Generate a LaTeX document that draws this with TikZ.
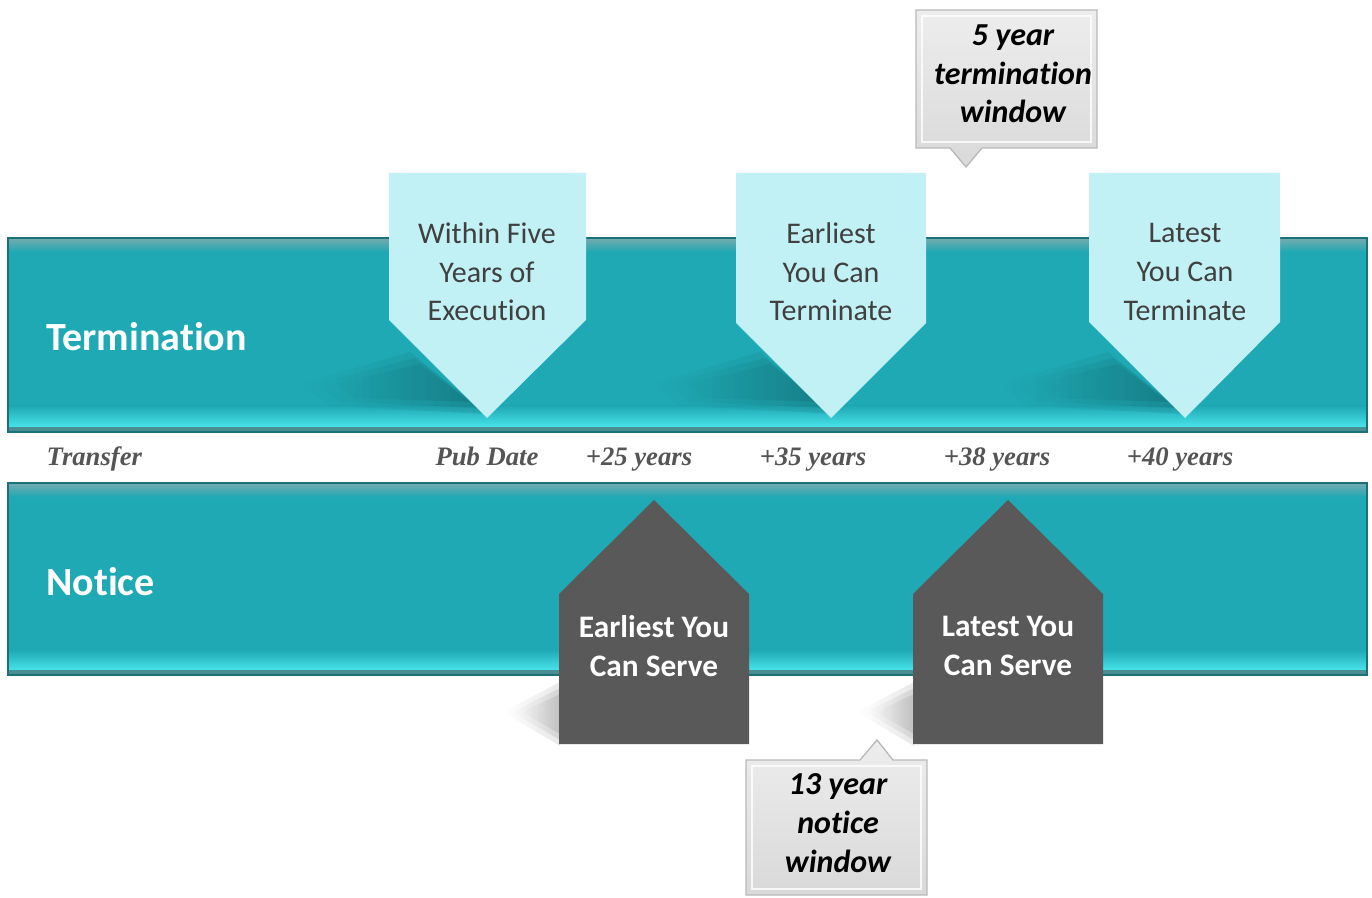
\documentclass[tikz,border=0pt]{standalone}
\usepackage{fontspec}
\setmainfont{Carlito}[Ligatures=NoCommon]
\newfontfamily\timesbi{Liberation Serif}
\usepackage{xcolor}
\usetikzlibrary{positioning, calc, fadings}

\definecolor{band}{HTML}{1FA9B4}
\definecolor{bandhi}{HTML}{48E3EA}
\definecolor{bandedge}{HTML}{1A7178}
\definecolor{tagfill}{HTML}{C2F1F5}
\definecolor{tagink}{HTML}{404040}
\definecolor{servefill}{HTML}{595959}
\definecolor{yearink}{HTML}{555555}
\tikzfading[name=fade in left, left color=transparent!100, right color=transparent!0]

\begin{document}
\begin{tikzpicture}[x=0.75pt, y=-0.75pt,
    bandtext/.style={text=white, anchor=west, inner sep=0pt, font=\fontsize{30}{36}\selectfont\bfseries},
    tagtext/.style={text=tagink, align=center, font=\fontsize{22.5}{29}\selectfont},
    servetext/.style={text=white, align=center, font=\fontsize{23.5}{29}\selectfont\bfseries},
    calltext/.style={align=center, font=\fontsize{24}{29}\selectfont\bfseries\itshape},
    yeartext/.style={text=yearink, anchor=base, font=\timesbi\fontsize{20}{24}\selectfont\bfseries\itshape},
    shadowfill/.style={fill=black, fill opacity=0.09, path fading=fade in left},
    callout/.style={top color=gray!14, bottom color=gray!30, draw=gray!55, line width=1}]
  \useasboundingbox (0,0) rectangle (1372,898);

  % the two bands
  \fill[band] (8,238) rectangle (1367,432);
  \shade[top color=bandedge!60, bottom color=band] (8,238) rectangle (1367,252);
  \shade[top color=band, bottom color=bandhi] (8,406) rectangle (1367,427);
  \fill[bandedge!80] (8,427) rectangle (1367,432);
  \draw[bandedge, line width=1.5] (8,238) rectangle (1367,432);
  \fill[band] (8,483) rectangle (1367,675);
  \shade[top color=bandedge!60, bottom color=band] (8,483) rectangle (1367,497);
  \shade[top color=band, bottom color=bandhi] (8,650) rectangle (1367,670);
  \fill[bandedge!80] (8,670) rectangle (1367,675);
  \draw[bandedge, line width=1.5] (8,483) rectangle (1367,675);
  \node[bandtext] (termination) at (46,337) {Termination};
  \node[bandtext] (notice) at (46,582) {Notice};

  % shadows, stacked for a soft edge
  \foreach \sx in {0,350,698}{
    \fill[shadowfill] (300+\sx,384) -- (410+\sx,352) -- (487+\sx,414) -- (330+\sx,406) -- cycle;
    \fill[shadowfill] (315+\sx,384) -- (415+\sx,358) -- (480+\sx,408) -- (340+\sx,402) -- cycle;
    \fill[shadowfill] (335+\sx,384) -- (420+\sx,364) -- (470+\sx,402) -- (355+\sx,398) -- cycle;
  }
  \foreach \sx in {0,354}{
    \fill[shadowfill] (503+\sx,712) -- (560+\sx,682) -- (560+\sx,746) -- cycle;
    \fill[shadowfill] (512+\sx,712) -- (560+\sx,688) -- (560+\sx,740) -- cycle;
    \fill[shadowfill] (522+\sx,712) -- (560+\sx,694) -- (560+\sx,734) -- cycle;
  }

  % termination tags
  \fill[tagfill] (389,173) -- (586,173) -- (586,320) -- (487,418) -- (389,320) -- cycle;
  \fill[tagfill] (736,173) -- (926,173) -- (926,323) -- (831,418) -- (736,323) -- cycle;
  \fill[tagfill] (1089,173) -- (1280,173) -- (1280,322) -- (1185,418) -- (1089,322) -- cycle;
  \node[tagtext] (within) at (487,272) {Within Five\\Years of\\Execution};
  \node[tagtext] (earliest) at (831,272) {Earliest\\You Can\\Terminate};
  \node[tagtext] (latest) at (1185,272) {Latest\\You Can\\Terminate};

  % notice tags
  \fill[servefill] (654,500) -- (749,594) -- (749,744) -- (559,744) -- (559,594) -- cycle;
  \fill[servefill] (1008,500) -- (1103,594) -- (1103,744) -- (913,744) -- (913,594) -- cycle;
  \node[servetext] (earlyserve) at (654,646) {Earliest You\\Can Serve};
  \node[servetext] (lateserve) at (1008,646) {Latest You\\Can Serve};

  % timeline
  \node[yeartext, anchor=base west] (transfer) at (42,466) {Transfer};
  \node[yeartext] (pubdate) at (487,466) {Pub Date};
  \node[yeartext] (plus25) at (639,466) {+25 years};
  \node[yeartext] (plus35) at (813,466) {+35 years};
  \node[yeartext] (plus38) at (997,466) {+38 years};
  \node[yeartext] (plus40) at (1180,466) {+40 years};

  % callouts
  \shadedraw[callout] (916,10) -- (1097,10) -- (1097,148) -- (982,148) -- (966,167)
    -- (950,148) -- (916,148) -- cycle;
  \draw[white, line width=1.5, opacity=0.8] (922,16) rectangle (1091,142);
  \node[calltext] (termwindow) at (1013,74) {5 year\\termination\\window};
  \shadedraw[callout] (746,760) -- (860,760) -- (877,740) -- (893,760) -- (927,760)
    -- (927,895) -- (746,895) -- cycle;
  \draw[white, line width=1.5, opacity=0.8] (752,766) rectangle (921,889);
  \node[calltext] (noticewindow) at (838,823) {13 year\\notice\\window};
\end{tikzpicture}
\end{document}
